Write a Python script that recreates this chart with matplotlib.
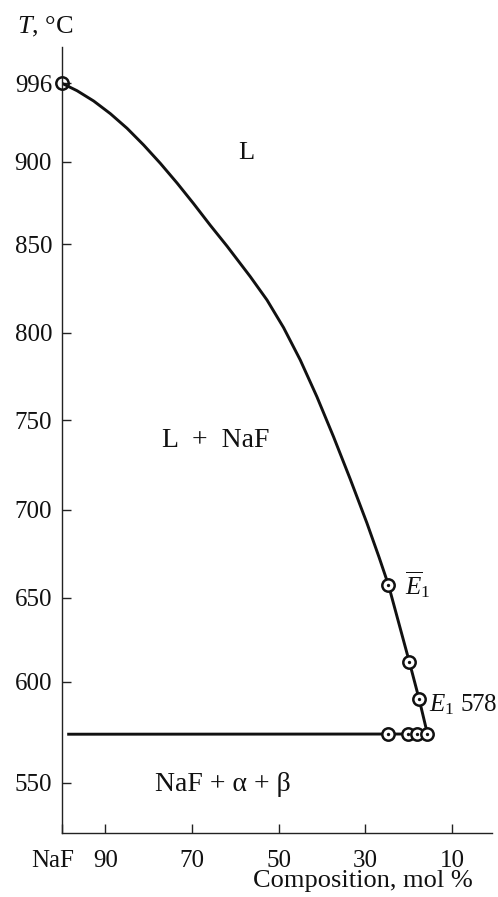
import numpy as np
import matplotlib
matplotlib.use("Agg")
import matplotlib.pyplot as plt
from matplotlib.ticker import NullLocator

plt.rcParams['font.family'] = ['Liberation Serif', 'DejaVu Serif']
plt.rcParams['mathtext.fontset'] = 'custom'
plt.rcParams['mathtext.rm'] = 'Liberation Serif'
plt.rcParams['mathtext.it'] = 'Liberation Serif:italic'

# ---------------- data ----------------
# liquidus curve of NaF (composition mol %, temperature °C)
liq_x = [100, 96.52, 92.69, 88.84, 84.99, 81.16, 77.31, 73.46, 69.64, 65.79,
         61.94, 56.56, 52.71, 48.89, 45.04, 41.19, 37.36, 33.51, 29.66,
         26.83, 24.68, 19.84, 17.60, 15.69]
liq_T = [996, 986.9, 974.3, 958.8, 940.9, 920.4, 899.0, 887.1, 874.6, 861.5,
         849.0, 831.7, 818.5, 802.9, 784.4, 763.3, 740.7, 717.2, 692.6,
         672.9, 657.2, 611.5, 591.3, 574.1]
# eutectic horizontal
eut_x = [98.8, 15.7]
eut_T = [574.0, 574.1]
# experimental points
pts_x = [100, 24.68, 19.84, 17.60, 24.9, 20.1, 18.1, 15.69]
pts_T = [996, 657.2, 611.5, 591.3, 574.1, 574.1, 574.1, 574.1]

x_ticks = [100, 90, 70, 50, 30, 10]
x_ticklabels = ['', '90', '70', '50', '30', '10']
y_ticks = [550, 600, 650, 700, 750, 800, 850, 900, 996]
y_ticklabels = ['550', '600', '650', '700', '750', '800', '850', '900', '996']

# non-uniform (hand-drawn) temperature axis: knots -> normalized position
T_knots = [525, 550, 600, 650, 700, 750, 800, 850, 900, 996, 1040]
_pix = np.array([833, 782.7, 681.7, 597.7, 510, 420, 332.7, 244.3, 161.7, 83.3, 47])
u_knots = list((833 - _pix) / (833 - 47))


def _pw(x, xp, fp):
    x = np.asarray(x, dtype=float)
    xp = np.asarray(xp, dtype=float)
    fp = np.asarray(fp, dtype=float)
    y = np.interp(x, xp, fp)
    lo_s = (fp[1] - fp[0]) / (xp[1] - xp[0])
    hi_s = (fp[-1] - fp[-2]) / (xp[-1] - xp[-2])
    y = np.where(x < xp[0], fp[0] + (x - xp[0]) * lo_s, y)
    y = np.where(x > xp[-1], fp[-1] + (x - xp[-1]) * hi_s, y)
    return y


def fwd(T):
    return _pw(T, T_knots, u_knots)


def inv(u):
    return _pw(u, u_knots, T_knots)


# ---------------- figure ----------------
W, H = 498, 897
fig = plt.figure(figsize=(W / 100, H / 100), dpi=100)
ax = fig.add_axes([62 / W, (H - 833) / H, 430 / W, 786 / H])

ax.set_yscale('function', functions=(fwd, inv))
ax.set_xlim(100, 0.8)
ax.set_ylim(525, 1040)

ink = '#111111'
ax.plot(liq_x, liq_T, color=ink, lw=2.1, solid_capstyle='round',
        solid_joinstyle='round', zorder=2)
ax.plot(eut_x, eut_T, color=ink, lw=2.1, solid_capstyle='butt', zorder=2)

for i, (px, pT) in enumerate(zip(pts_x, pts_T)):
    face = 'none' if i == 0 else 'white'
    ax.plot([px], [pT], marker='o', ms=8.9, mew=1.8, mfc=face, mec=ink,
            ls='none', zorder=3 + 2 * i, clip_on=False)
    if i > 0:
        ax.plot([px], [pT], marker='o', ms=2.4, mew=0, mfc=ink,
                ls='none', zorder=4 + 2 * i, clip_on=False)

for s in ['top', 'right']:
    ax.spines[s].set_visible(False)
for s in ['left', 'bottom']:
    ax.spines[s].set_linewidth(1.0)
    ax.spines[s].set_color('#222222')

ax.set_xticks(x_ticks)
ax.set_xticklabels(x_ticklabels)
ax.set_yticks(y_ticks)
ax.set_yticklabels(y_ticklabels)
ax.yaxis.set_minor_locator(NullLocator())
ax.xaxis.set_minor_locator(NullLocator())
ax.tick_params(axis='both', direction='in', length=6.5, width=1.0,
               color='#222222', labelsize=18, labelcolor='#111111')
ax.tick_params(axis='y', pad=7.2)
ax.tick_params(axis='x', pad=12.0)

fs = 18
ax.annotate('NaF', xy=(100, 0), xycoords=('data', 'axes fraction'),
            xytext=(-9, -16.7), textcoords='offset pixels',
            ha='center', va='top', fontsize=fs, color='#111111')

ax.text(57.6, 903.3, 'L', ha='center', va='baseline', fontsize=19, color='#111111')
ax.text(64.6, 735, 'L  +  NaF', ha='center', va='baseline', fontsize=20, color='#111111')
ax.text(63.0, 546, 'NaF + α + β', ha='center', va='baseline', fontsize=20, color='#111111')
ax.text(20.8, 651.9, r'$\overline{E}_\mathrm{1}$', ha='left', va='baseline', fontsize=fs, color='#111111')
ax.text(15.3, 585.1, r'$E_\mathrm{1}$ 578', ha='left', va='baseline', fontsize=fs, color='#111111')

fig.text(473 / W, 1 - 887 / H, 'Composition, mol %', ha='right', va='baseline',
         fontsize=19, color='#111111')
fig.text(17 / W, 1 - 33.3 / H, r'$T$, °C', ha='left', va='baseline',
         fontsize=19, color='#111111')

fig.savefig('out.png', dpi=100)
